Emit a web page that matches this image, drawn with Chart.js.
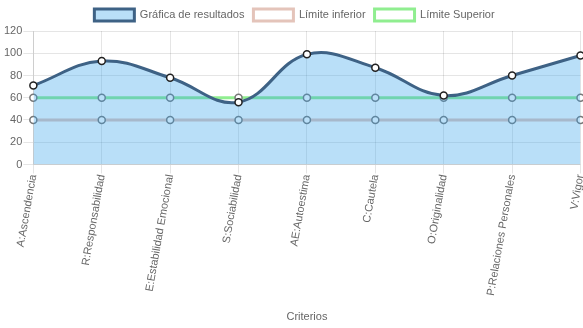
<!DOCTYPE html>
<html>
<head>
<meta charset="utf-8">
<script src="https://cdn.jsdelivr.net/npm/chart.js@4/dist/chart.umd.min.js"></script>
<style>
    body { margin: 0; background: #fff; overflow: hidden; }
    #wrap { width: 586px; height: 328px; position: relative; }
</style>
</head>
<body>
<div id="wrap"><canvas id="grafica"></canvas></div>
<script>
const criterios = ['A:Ascendencia', 'R:Responsabilidad', 'E:Estabilidad Emocional', 'S:Sociabilidad',
    'AE:Autoestima', 'C:Cautela', 'O:Originalidad', 'P:Relaciones Personales', 'V:Vigor'];
const resultados = [71, 93, 78, 56, 99, 87, 62, 80, 98];
const limiteInferior = [40, 40, 40, 40, 40, 40, 40, 40, 40];
const limiteSuperior = [60, 60, 60, 60, 60, 60, 60, 60, 60];
const ticksY = [0, 20, 40, 60, 80, 100, 120];

Chart.defaults.font.family = "Arial, 'Liberation Sans', sans-serif";
Chart.defaults.font.size = 11;
Chart.defaults.color = '#666';

const ctx = document.getElementById('grafica').getContext('2d');
new Chart(ctx, {
    type: 'line',
    data: {
        labels: criterios,
        datasets: [{
            label: 'Gráfica de resultados',
            data: resultados,
            backgroundColor: 'rgba(54, 162, 235, 0.35)',
            borderColor: '#3e6285',
            borderWidth: 3,
            fill: 'origin',
            tension: 0.4,
            pointRadius: 3.5,
            pointBackgroundColor: '#fff',
            pointBorderColor: '#222',
            pointBorderWidth: 1.5
        }, {
            label: 'Límite inferior',
            data: limiteInferior,
            backgroundColor: '#fff',
            borderColor: 'rgb(228, 196, 186)',
            borderWidth: 3,
            fill: false,
            pointRadius: 3.5,
            pointBackgroundColor: '#fff',
            pointBorderColor: '#777',
            pointBorderWidth: 1.5
        }, {
            label: 'Límite Superior',
            data: limiteSuperior,
            backgroundColor: '#fff',
            borderColor: 'rgb(144, 238, 144)',
            borderWidth: 3,
            fill: false,
            pointRadius: 3.5,
            pointBackgroundColor: '#fff',
            pointBorderColor: '#777',
            pointBorderWidth: 1.5
        }]
    },
    options: {
        responsive: true,
        maintainAspectRatio: false,
        animation: false,
        layout: { padding: { left: 3, right: 0, top: 0, bottom: 0 } },
        plugins: {
            legend: {
                labels: { boxWidth: 40, boxHeight: 12, padding: 9 }
            },
            tooltip: { enabled: false }
        },
        scales: {
            x: {
                grid: { color: 'rgba(0,0,0,0.1)', tickLength: 9 },
                ticks: { autoSkip: false, maxRotation: 80, minRotation: 80, padding: 0 },
                title: { display: true, text: 'Criterios', padding: { top: 14 } },
                afterFit: scale => { scale.paddingRight = 0; }
            },
            y: {
                min: 0,
                max: 120,
                afterBuildTicks: axis => { axis.ticks = ticksY.map(v => ({ value: v })); },
                grid: { color: 'rgba(0,0,0,0.1)', tickLength: 10 },
                ticks: { padding: 1 }
            }
        }
    }
});
</script>
</body>
</html>
